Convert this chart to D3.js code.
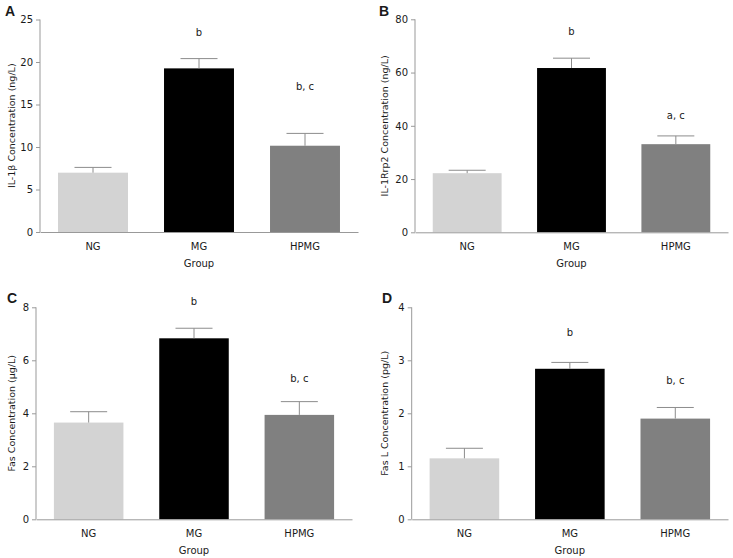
<!DOCTYPE html>
<html><head><meta charset="utf-8">
<script src="https://cdn.jsdelivr.net/npm/d3@7"></script>
<style>
body{margin:0;background:#fff;}
text{font-family:"DejaVu Sans",Verdana,sans-serif;fill:#1a1a1a;}
</style></head>
<body>
<svg id="c" width="733" height="558"></svg>
<script>
const groups = ["NG", "MG", "HPMG"];
const colors = ["#d3d3d3", "#000000", "#808080"];
const panelLetters = ["A", "B", "C", "D"];
const yTitles = ["IL-1\u03b2 Concentration (ng/L)", "IL-1Rrp2 Concentration (ng/L)", "Fas Concentration (\u03bcg/L)", "Fas L Concentration (pg/L)"];
const yMax = [25, 80, 8, 4];
const yTicks = [[0,5,10,15,20,25],[0,20,40,60,80],[0,2,4,6,8],[0,1,2,3,4]];
const meansA = [6.98, 19.25, 10.15];
const errA   = [0.62, 1.15, 1.45];
const meansB = [22.2, 61.7, 33.1];
const errB   = [1.1, 3.7, 3.1];
const meansC = [3.65, 6.83, 3.94];
const errC   = [0.41, 0.38, 0.50];
const meansD = [1.15, 2.84, 1.90];
const errD   = [0.19, 0.12, 0.21];
const sigA = ["", "b", "b, c"]; const sigAy = [0, 23.5, 17.06];
const sigB = ["", "b", "a, c"]; const sigBy = [0, 75.4, 43.7];
const sigC = ["", "b", "b, c"]; const sigCy = [0, 8.21, 5.32];
const sigD = ["", "b", "b, c"]; const sigDy = [0, 3.52, 2.615];

const means = [meansA, meansB, meansC, meansD];
const errs = [errA, errB, errC, errD];
const sigs = [sigA, sigB, sigC, sigD];
const sigYs = [sigAy, sigBy, sigCy, sigDy];

// layout: [axisX, xEnd, y0, yTop, letterX, letterY, yTitleX]
const layout = [
  [40, 358, 232, 19.5, 5, 16, 12],
  [415, 728, 232.3, 19.3, 379, 16, 385],
  [36, 352, 519.3, 307.3, 7, 303, 12],
  [411.7, 728, 519.3, 307.3, 382, 303, 385]
];

const svg = d3.select("#c");
layout.forEach((L, i) => {
  const [ax, xe, y0, yt, lx, ly, tx] = L;
  const g = svg.append("g");
  const x = d3.scaleBand().domain(groups).range([ax, xe]).paddingInner(0.34).paddingOuter(0.17);
  const y = d3.scaleLinear().domain([0, yMax[i]]).range([y0, yt]);
  const data = groups.map((k, j) => ({k, m: means[i][j], e: errs[i][j], c: colors[j], s: sigs[i][j], sy: sigYs[i][j]}));

  // bars
  g.selectAll("rect.bar").data(data).join("rect")
    .attr("x", d => x(d.k)).attr("width", x.bandwidth())
    .attr("y", d => y(d.m)).attr("height", d => y(0) - y(d.m))
    .attr("fill", d => d.c);
  // error bars
  const cx = d => x(d.k) + x.bandwidth() / 2;
  g.selectAll("line.stem").data(data).join("line")
    .attr("x1", cx).attr("x2", cx)
    .attr("y1", d => y(d.m)).attr("y2", d => y(d.m + d.e))
    .attr("stroke", "#8c8c8c").attr("stroke-width", 1);
  g.selectAll("line.cap").data(data).join("line")
    .attr("x1", d => cx(d) - 18.5).attr("x2", d => cx(d) + 18.5)
    .attr("y1", d => y(d.m + d.e)).attr("y2", d => y(d.m + d.e))
    .attr("stroke", "#8c8c8c").attr("stroke-width", 1);
  // significance
  g.selectAll("text.sig").data(data.filter(d => d.s)).join("text")
    .attr("x", cx).attr("y", d => y(d.sy)).attr("dy", "0.35em")
    .attr("text-anchor", "middle").attr("font-size", 10).text(d => d.s);

  // y axis
  const yAx = g.append("g").attr("transform", `translate(${ax},0)`)
    .call(d3.axisLeft(y).tickValues(yTicks[i]).tickSize(4).tickPadding(3).tickFormat(d3.format("d")));
  yAx.select(".domain").attr("stroke", "#999").attr("d", `M0,${y0}V${yt}`);
  yAx.selectAll(".tick line").attr("stroke", "#999");
  yAx.selectAll(".tick text").attr("font-size", 10).attr("font-family", "DejaVu Sans").attr("fill", "#1a1a1a");
  // x axis
  const xAx = g.append("g").attr("transform", `translate(0,${y0})`)
    .call(d3.axisBottom(x).tickSize(0).tickPadding(11));
  xAx.select(".domain").attr("stroke", "#999");
  xAx.selectAll(".tick text").attr("font-size", 10).attr("font-family", "DejaVu Sans").attr("fill", "#1a1a1a");

  g.append("text").attr("x", (ax + xe) / 2 + (i % 2 ? 0 : 0)).attr("y", y0 + 31).attr("dy", "0.35em")
    .attr("text-anchor", "middle").attr("font-size", 10).text("Group")
    .attr("x", x("MG") + x.bandwidth() / 2);
  g.append("text").attr("transform", `translate(${tx},${(y0 + yt) / 2}) rotate(-90)`)
    .attr("dy", "0.35em").attr("text-anchor", "middle").attr("font-size", 9.5).text(yTitles[i]);
  g.append("text").attr("x", lx).attr("y", ly).attr("font-size", 14).attr("font-weight", "bold")
    .style("font-family", "Liberation Sans, Arial, sans-serif").text(panelLetters[i]);
});
</script>
</body></html>
